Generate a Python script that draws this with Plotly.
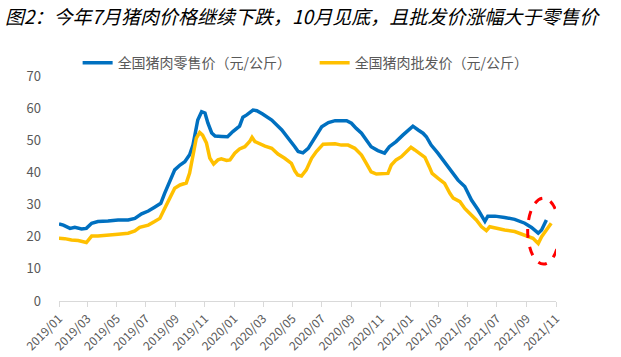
import plotly.graph_objects as go

title_text = "图2：今年7月猪肉价格继续下跌，10月见底，且批发价涨幅大于零售价"
retail_name = "全国猪肉零售价（元/公斤）"
wholesale_name = "全国猪肉批发价（元/公斤）"

retail_dates = [
    "2019-01-01", "2019-01-10", "2019-01-24", "2019-02-03", "2019-02-17", "2019-02-27",
    "2019-03-10", "2019-03-23", "2019-04-13", "2019-05-04", "2019-05-25", "2019-06-08",
    "2019-06-22", "2019-07-06", "2019-07-19", "2019-08-01", "2019-08-09", "2019-08-20",
    "2019-08-30", "2019-09-10", "2019-09-20", "2019-09-30", "2019-10-07", "2019-10-17",
    "2019-10-25", "2019-11-01", "2019-11-07", "2019-11-15", "2019-11-22", "2019-12-06",
    "2019-12-18", "2019-12-29", "2020-01-12", "2020-01-19", "2020-01-27", "2020-02-09",
    "2020-02-17", "2020-02-29", "2020-03-19", "2020-04-09", "2020-04-26", "2020-05-06",
    "2020-05-13", "2020-05-23", "2020-06-03", "2020-06-17", "2020-07-01", "2020-07-15",
    "2020-07-29", "2020-08-22", "2020-09-01", "2020-09-11", "2020-09-22", "2020-10-02",
    "2020-10-12", "2020-10-26", "2020-11-09", "2020-11-19", "2020-12-03", "2020-12-17",
    "2021-01-01", "2021-01-07", "2021-01-18", "2021-01-28", "2021-02-04", "2021-02-14",
    "2021-02-28", "2021-03-14", "2021-03-28", "2021-04-11", "2021-04-25", "2021-05-09",
    "2021-05-23", "2021-06-06", "2021-06-12", "2021-06-27", "2021-07-17", "2021-08-07",
    "2021-08-28", "2021-09-11", "2021-09-25", "2021-10-02", "2021-10-12",
]
retail_values = [
    24.0, 23.6, 22.6, 22.9, 22.4, 22.6,
    24.2, 24.7, 24.9, 25.2, 25.2, 25.7,
    27.1, 28.0, 29.2, 30.4, 33.5, 37.6,
    40.8, 42.3, 43.3, 45.5, 48.5, 56.3,
    58.9, 58.5, 55.4, 52.3, 51.3, 51.2,
    51.1, 52.7, 54.4, 57.2, 57.9, 59.4,
    59.2, 58.2, 56.3, 53.2, 50.1, 48.0,
    46.5, 46.1, 47.5, 51.1, 54.2, 55.5,
    56.1, 56.1, 55.3, 53.7, 52.2, 50.1,
    48.0, 46.8, 46.0, 48.0, 49.6, 51.6,
    53.7, 54.4, 53.2, 52.2, 51.1, 48.5,
    46.0, 43.3, 40.2, 37.6, 35.6, 31.4,
    28.3, 24.8, 26.4, 26.4, 26.0, 25.4,
    24.2, 22.9, 21.1, 22.1, 25.2,
]

wholesale_dates = [
    "2019-01-01", "2019-01-13", "2019-01-27", "2019-02-10", "2019-02-27", "2019-03-10",
    "2019-03-23", "2019-04-13", "2019-05-04", "2019-05-25", "2019-06-08", "2019-06-18",
    "2019-07-06", "2019-07-19", "2019-07-30", "2019-08-09", "2019-08-20", "2019-08-30",
    "2019-09-10", "2019-09-23", "2019-09-30", "2019-10-07", "2019-10-14", "2019-10-21",
    "2019-10-27", "2019-11-04", "2019-11-11", "2019-11-19", "2019-11-28", "2019-12-05",
    "2019-12-16", "2019-12-23", "2020-01-02", "2020-01-12", "2020-01-23", "2020-02-02",
    "2020-02-07", "2020-02-13", "2020-02-23", "2020-03-05", "2020-03-19", "2020-04-01",
    "2020-04-15", "2020-04-29", "2020-05-06", "2020-05-12", "2020-05-20", "2020-05-30",
    "2020-06-10", "2020-06-20", "2020-07-04", "2020-07-15", "2020-07-29", "2020-08-11",
    "2020-08-25", "2020-09-08", "2020-09-22", "2020-10-02", "2020-10-12", "2020-10-23",
    "2020-11-06", "2020-11-16", "2020-11-23", "2020-12-03", "2020-12-14", "2020-12-24",
    "2021-01-03", "2021-01-11", "2021-01-21", "2021-02-01", "2021-02-10", "2021-02-16",
    "2021-02-28", "2021-03-14", "2021-03-25", "2021-04-01", "2021-04-15", "2021-04-25",
    "2021-05-05", "2021-05-19", "2021-05-30", "2021-06-09", "2021-06-16", "2021-06-30",
    "2021-07-17", "2021-08-07", "2021-08-28", "2021-09-14", "2021-09-25", "2021-10-02",
    "2021-10-12", "2021-10-22",
]
wholesale_values = [
    19.5, 19.4, 19.0, 18.8, 18.2, 20.2,
    20.2, 20.4, 20.8, 21.1, 21.8, 22.9,
    23.6, 24.7, 25.7, 28.8, 32.4, 35.1,
    36.1, 36.7, 39.8, 46.0, 50.7, 52.4,
    51.6, 49.2, 44.5, 42.6, 43.9, 44.2,
    43.7, 43.9, 46.0, 47.3, 48.0, 49.6,
    50.9, 49.6, 48.8, 48.2, 47.5, 45.7,
    44.4, 42.8, 40.5, 39.2, 38.9, 40.8,
    44.4, 46.5, 48.8, 48.8, 48.9, 48.5,
    48.5, 47.5, 45.4, 42.8, 40.2, 39.5,
    39.7, 39.7, 42.3, 43.9, 44.9, 46.5,
    47.8, 47.0, 45.9, 44.7, 41.8, 39.7,
    38.2, 36.6, 33.5, 32.0, 30.9, 28.8,
    27.3, 25.2, 23.1, 21.9, 23.1, 22.6,
    22.1, 21.6, 20.5, 19.5, 17.9, 20.0,
    22.1, 24.2,
]

tick_dates = [
    "2019-01-01", "2019-03-01", "2019-05-01", "2019-07-01", "2019-09-01", "2019-11-01",
    "2020-01-01", "2020-03-01", "2020-05-01", "2020-07-01", "2020-09-01", "2020-11-01",
    "2021-01-01", "2021-03-01", "2021-05-01", "2021-07-01", "2021-09-01", "2021-11-01",
]
tick_labels = [
    "2019/01", "2019/03", "2019/05", "2019/07", "2019/09", "2019/11",
    "2020/01", "2020/03", "2020/05", "2020/07", "2020/09", "2020/11",
    "2021/01", "2021/03", "2021/05", "2021/07", "2021/09", "2021/11",
]
y_ticks = [0, 10, 20, 30, 40, 50, 60, 70]

# highlight ellipse (data coordinates)
ellipse_x = ["2021-09-03", "2021-11-08"]
ellipse_y = [11.5, 32.0]

fig = go.Figure()
fig.add_trace(go.Scatter(
    x=retail_dates, y=retail_values, mode="lines", name=retail_name,
    line=dict(color="#0070C0", width=3.5),
))
fig.add_trace(go.Scatter(
    x=wholesale_dates, y=wholesale_values, mode="lines", name=wholesale_name,
    line=dict(color="#FFC000", width=3.5),
))

fig.add_shape(
    type="circle", xref="x", yref="y",
    x0=ellipse_x[0], x1=ellipse_x[1], y0=ellipse_y[0], y1=ellipse_y[1],
    line=dict(color="#FF0000", width=3, dash="dash"),
)

fig.update_layout(
    width=621, height=357,
    margin=dict(l=59, r=65, t=76, b=56, autoexpand=False),
    paper_bgcolor="white", plot_bgcolor="white",
    font=dict(family="Noto Sans CJK SC", color="#595959"),
    title=dict(
        text=title_text, x=0.008, xanchor="left", y=0.952, yanchor="middle",
        font=dict(family="Noto Sans CJK SC", size=19, color="#000000", style="italic"),
    ),
    legend=dict(
        orientation="h", yref="container", xref="container",
        x=0.125, xanchor="left", y=0.823, yanchor="middle",
        font=dict(size=14, color="#595959"), itemwidth=30,
        entrywidth=192, entrywidthmode="pixels",
        bgcolor="rgba(0,0,0,0)",
    ),
    showlegend=True,
)
fig.update_xaxes(
    type="date", range=["2019-01-01", "2021-11-01"], automargin=False,
    tickvals=tick_dates, ticktext=tick_labels, tickangle=-45,
    showgrid=False, showline=True, linecolor="#D9D9D9", linewidth=1,
    ticks="outside", ticklen=5, tickcolor="#D9D9D9",
    tickfont=dict(size=12, color="#595959", family="Noto Sans CJK SC"),
    zeroline=False,
)
fig.update_yaxes(
    range=[0, 70], tickvals=y_ticks, showgrid=False, showline=False, zeroline=False,
    ticks="", ticklabelstandoff=17, automargin=False,
    tickfont=dict(size=13, color="#595959", family="Noto Sans CJK SC"),
)

fig.write_html(
    "out.html",
    config={"displayModeBar": False},
    post_script="document.body.style.margin='0';document.body.style.padding='0';",
)
